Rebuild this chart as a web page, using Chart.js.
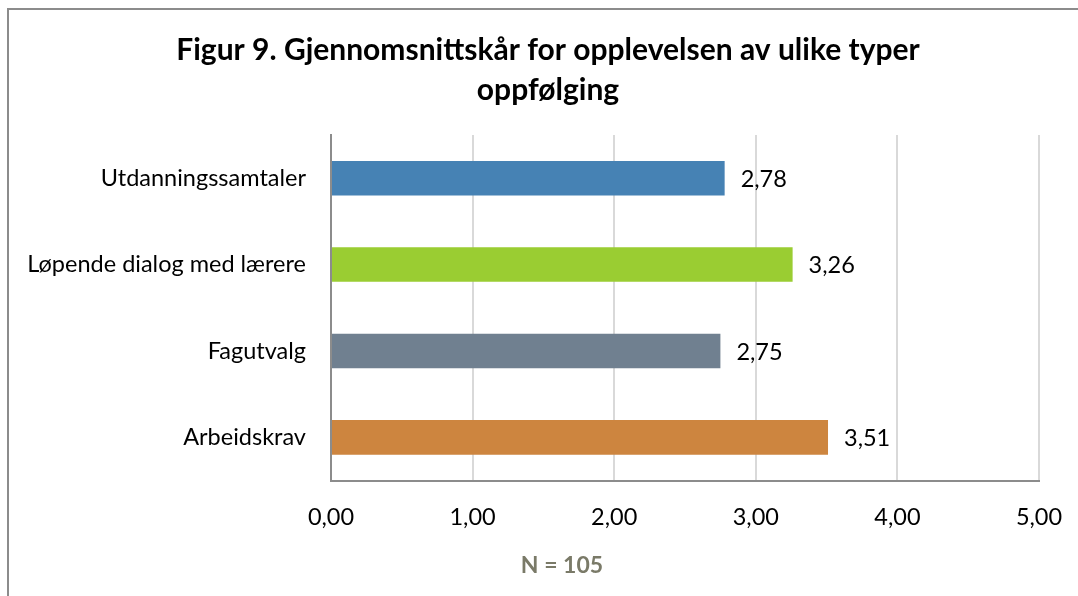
<!DOCTYPE html>
<html>
<head>
<meta charset="utf-8">
<script src="https://cdn.jsdelivr.net/npm/chart.js@4.4.1/dist/chart.umd.min.js"></script>
<style>
  html, body { margin: 0; padding: 0; background: #fff; overflow: hidden; }
  #frame {
    position: absolute; left: 7px; top: 8px; width: 2000px; height: 2000px;
    border-left: 2px solid #8c8c8c; border-top: 2px solid #8c8c8c;
  }
  #wrap { position: absolute; left: 0; top: 0; width: 1078px; height: 596px; }
</style>
</head>
<body>
<div id="frame"></div>
<div id="wrap"><canvas id="chart" width="1078" height="596"></canvas></div>
<script>
const categories = ['Utdanningssamtaler', 'Løpende dialog med lærere', 'Fagutvalg', 'Arbeidskrav'];
const scores = [2.78, 3.26, 2.75, 3.51];
const barColors = ['#4682B4', '#9ACD32', '#708090', '#CD853F'];
const titleLines = ['Figur 9. Gjennomsnittskår for opplevelsen av ulike typer', 'oppfølging'];
const footnote = 'N = 105';

const fontFamily = 'Lato, "Open Sans", sans-serif';
const fmt = v => Number(v).toFixed(2).replace('.', ',');

// draws the value next to the end of each bar
const valueLabels = {
    id: 'valueLabels',
    afterDatasetsDraw(chart) {
        const ctx = chart.ctx;
        const meta = chart.getDatasetMeta(0);
        ctx.save();
        ctx.font = '23.5px ' + fontFamily;
        ctx.fillStyle = '#000';
        ctx.textAlign = 'left';
        ctx.textBaseline = 'middle';
        meta.data.forEach((bar, i) => {
            ctx.fillText(fmt(chart.data.datasets[0].data[i]), bar.x + 16, bar.y + 1);
        });
        ctx.restore();
    }
};

// title and footnote sit a bit right of the canvas centre, like the original
const shiftBlocks = {
    id: 'shiftBlocks',
    afterLayout(chart) {
        chart.titleBlock.left = 57;
        chart.titleBlock.right = 1039;
        const sub = chart.boxes.find(b => b.options && b.options.text === footnote);
        if (sub) { sub.left = 85; sub.right = 1039; }
    }
};

new Chart(document.getElementById('chart'), {
    type: 'bar',
    data: {
        labels: categories,
        datasets: [{
            data: scores,
            backgroundColor: barColors,
            borderWidth: 0,
            barPercentage: 0.4,
            categoryPercentage: 1
        }]
    },
    options: {
        indexAxis: 'y',
        responsive: false,
        animation: false,
        layout: { padding: { left: 0, right: 39, top: 0, bottom: 19 } },
        scales: {
            x: {
                min: 0,
                max: 5,
                ticks: {
                    stepSize: 1,
                    padding: 22.6,
                    color: '#000',
                    font: { family: fontFamily, size: 23.5 },
                    callback: v => fmt(v)
                },
                grid: { color: '#d9d9d9', lineWidth: 2, drawTicks: false },
                border: { color: '#8c8c8c', width: 2 },
                afterFit(scale) { scale.paddingLeft = 0; scale.paddingRight = 0; }
            },
            y: {
                ticks: {
                    padding: 25,
                    color: '#000',
                    font: { family: fontFamily, size: 23.5 }
                },
                grid: { display: false, drawTicks: false },
                border: { color: '#8c8c8c', width: 2 },
                afterFit(scale) { scale.width = 331; }
            }
        },
        plugins: {
            legend: { display: false },
            tooltip: { enabled: false },
            title: {
                display: true,
                text: titleLines,
                color: '#000',
                font: { family: fontFamily, size: 30, weight: 'bold', lineHeight: 1.333 },
                padding: { top: 30, bottom: 25 }
            },
            subtitle: {
                display: true,
                position: 'bottom',
                text: footnote,
                color: '#7a7a68',
                font: { family: fontFamily, size: 23, weight: 'bold', lineHeight: 1 },
                padding: { top: 0, bottom: 0 }
            }
        }
    },
    plugins: [valueLabels, shiftBlocks]
});
</script>
</body>
</html>
